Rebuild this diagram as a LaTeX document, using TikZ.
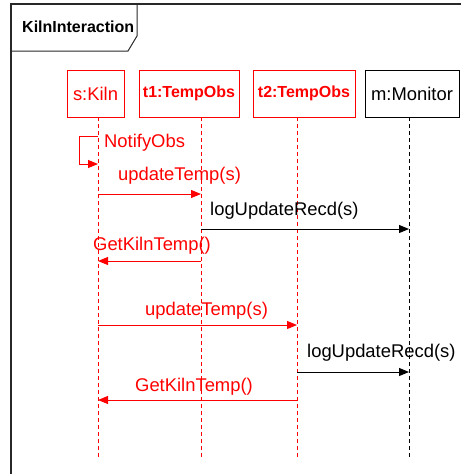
\documentclass[tikz,border=0pt]{standalone}
\usepackage{fontspec}
\setmainfont{Liberation Sans}
\usetikzlibrary{arrows.meta}
\definecolor{objred}{RGB}{255,0,0}
\definecolor{framegray}{RGB}{40,40,40}
\tikzset{
  obj/.style={draw, line width=1pt, minimum height=47pt, inner sep=0pt, font=\fontsize{18.4}{20}\selectfont},
  objbold/.style={obj, font=\fontsize{16}{18}\selectfont\bfseries},
  life/.style={line width=1pt, dash pattern=on 4pt off 3pt},
  msg/.style={line width=1pt, -{Triangle[length=10pt,width=8pt]}},
  lbl/.style={anchor=base west, inner sep=0pt, font=\fontsize{18.4}{20}\selectfont},
  framebox/.style={draw=framegray, line width=1.6pt},
}
\begin{document}
\begin{tikzpicture}[x=1pt,y=-1pt]
\useasboundingbox (0,0) rectangle (461,474);

% diagram frame and its name tag
\draw[framebox] (11,474) -- (11,4) -- (461,4);
\draw[line width=1pt, draw=framegray] (11,51) -- (128,51) -- (137,36) -- (137,4);
\node[anchor=base west, inner sep=0pt, font=\fontsize{16}{18}\selectfont\bfseries] (title) at (22,32) {KilnInteraction};

% participants
\node[obj, draw=objred, text=objred, minimum width=57pt] (kiln) at (95.5,93.5) {s:Kiln};
\node[objbold, draw=objred, text=objred, minimum width=100pt] (tone) at (189,93.5) {t1:TempObs};
\node[objbold, draw=objred, text=objred, minimum width=102pt] (ttwo) at (304,93.5) {t2:TempObs};
\node[obj, minimum width=94pt] (mon) at (412,93.5) {m:Monitor};

% lifelines
\coordinate (kl) at (98,117);   \coordinate (kb) at (98,457);
\coordinate (al) at (201,117);  \coordinate (ab) at (201,457);
\coordinate (bl) at (297,117);  \coordinate (bb) at (297,457);
\coordinate (ml) at (409,117);  \coordinate (mb) at (409,457);
\draw[life, objred] (kl) -- (kb);
\draw[life, objred] (al) -- (ab);
\draw[life, objred] (bl) -- (bb);
\draw[life, black] (ml) -- (mb);

% self call on the kiln
\draw[msg, objred] (kl |- 0,136) -- (79,136) -- (79,164) -- (kl |- 0,164);
\node[lbl, text=objred] (n1) at (104,147) {NotifyObs};

% first observer round
\draw[msg, objred] (kl |- 0,194) -- (al |- 0,194);
\node[lbl, text=objred] (u1) at (118,180) {updateTemp(s)};
\draw[msg, black] (al |- 0,229) -- (ml |- 0,229);
\node[lbl] (r1) at (210,215) {logUpdateRecd(s)};
\draw[msg, objred] (al |- 0,261) -- (kl |- 0,261);
\node[lbl, text=objred] (g1) at (93,250) {GetKilnTemp()};

% second observer round
\draw[msg, objred] (kl |- 0,325) -- (bl |- 0,325);
\node[lbl, text=objred] (u2) at (145,315) {updateTemp(s)};
\draw[msg, black] (bl |- 0,372) -- (ml |- 0,372);
\node[lbl] (r2) at (307,357) {logUpdateRecd(s)};
\draw[msg, objred] (bl |- 0,400) -- (kl |- 0,400);
\node[lbl, text=objred] (g2) at (135,391) {GetKilnTemp()};
\end{tikzpicture}
\end{document}
